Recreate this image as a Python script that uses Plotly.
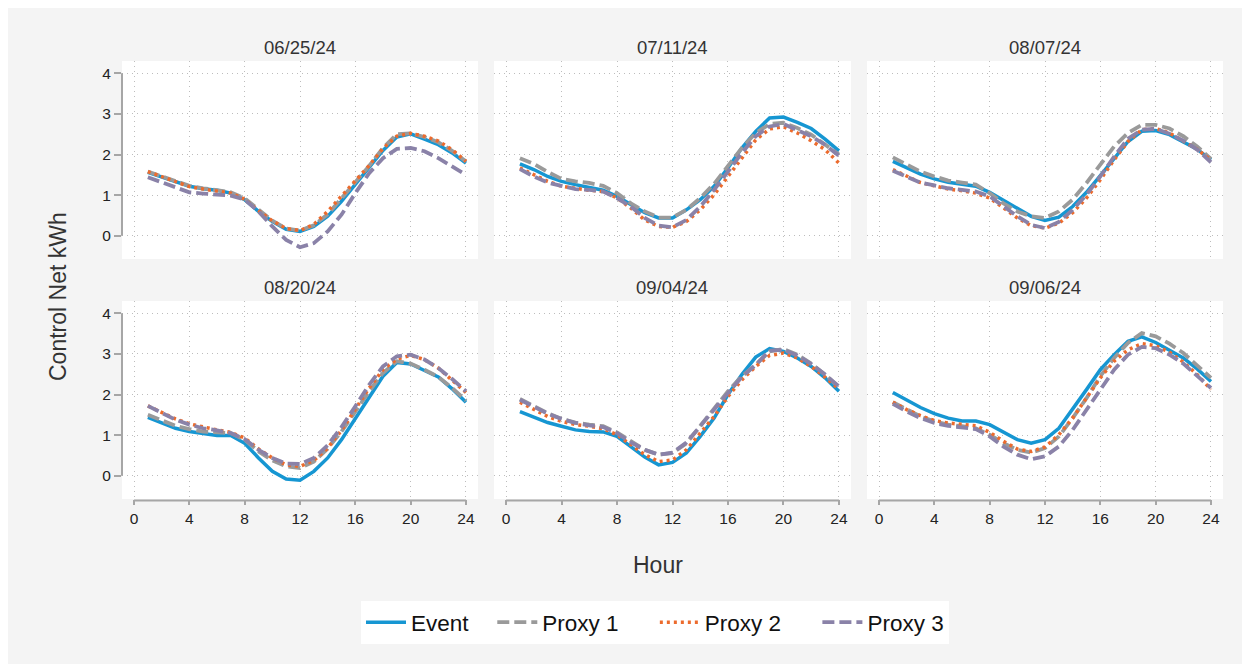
import plotly.graph_objects as go
from plotly.subplots import make_subplots

hours = list(range(1, 25))
dates = ["06/25/24", "07/11/24", "08/07/24", "08/20/24", "09/04/24", "09/06/24"]
series_names = ["Event", "Proxy 1", "Proxy 2", "Proxy 3"]

# values per panel: Event, Proxy 1, Proxy 2, Proxy 3
event_0625 = [1.56, 1.45, 1.33, 1.22, 1.16, 1.12, 1.05, 0.89, 0.60, 0.35, 0.16, 0.11, 0.23, 0.48, 0.85, 1.26, 1.67, 2.10, 2.43, 2.51, 2.38, 2.24, 2.04, 1.79]
proxy1_0625 = [1.58, 1.46, 1.34, 1.23, 1.17, 1.13, 1.07, 0.92, 0.63, 0.37, 0.18, 0.13, 0.26, 0.53, 0.92, 1.32, 1.72, 2.16, 2.50, 2.52, 2.43, 2.30, 2.09, 1.83]
proxy2_0625 = [1.58, 1.45, 1.32, 1.21, 1.15, 1.11, 1.05, 0.90, 0.62, 0.37, 0.18, 0.13, 0.28, 0.60, 0.97, 1.34, 1.73, 2.15, 2.45, 2.52, 2.45, 2.33, 2.12, 1.83]
proxy3_0625 = [1.44, 1.32, 1.19, 1.07, 1.04, 1.01, 0.99, 0.89, 0.60, 0.23, -0.10, -0.28, -0.18, 0.11, 0.52, 1.05, 1.54, 1.91, 2.14, 2.16, 2.08, 1.91, 1.71, 1.50]

event_0711 = [1.77, 1.63, 1.46, 1.34, 1.26, 1.20, 1.12, 0.97, 0.76, 0.57, 0.44, 0.44, 0.64, 0.89, 1.22, 1.67, 2.16, 2.57, 2.90, 2.92, 2.79, 2.64, 2.38, 2.09]
proxy1_0711 = [1.91, 1.77, 1.57, 1.40, 1.34, 1.30, 1.23, 1.05, 0.80, 0.60, 0.45, 0.45, 0.64, 0.93, 1.28, 1.71, 2.16, 2.53, 2.75, 2.78, 2.65, 2.49, 2.24, 2.00]
proxy2_0711 = [1.67, 1.50, 1.34, 1.22, 1.16, 1.12, 1.09, 0.93, 0.68, 0.39, 0.23, 0.21, 0.35, 0.64, 1.01, 1.46, 1.93, 2.36, 2.63, 2.68, 2.53, 2.34, 2.12, 1.79]
proxy3_0711 = [1.64, 1.46, 1.31, 1.22, 1.15, 1.13, 1.09, 0.93, 0.72, 0.44, 0.25, 0.21, 0.39, 0.72, 1.13, 1.58, 2.04, 2.45, 2.69, 2.75, 2.61, 2.45, 2.24, 1.97]

event_0807 = [1.83, 1.67, 1.52, 1.40, 1.32, 1.27, 1.22, 1.07, 0.87, 0.66, 0.48, 0.38, 0.46, 0.72, 1.07, 1.48, 1.91, 2.32, 2.57, 2.59, 2.49, 2.32, 2.13, 1.87]
proxy1_0807 = [1.93, 1.75, 1.58, 1.46, 1.36, 1.31, 1.26, 1.05, 0.80, 0.60, 0.48, 0.44, 0.60, 0.89, 1.30, 1.75, 2.20, 2.53, 2.73, 2.73, 2.64, 2.45, 2.20, 1.89]
proxy2_0807 = [1.63, 1.46, 1.31, 1.23, 1.15, 1.11, 1.05, 0.93, 0.68, 0.44, 0.25, 0.19, 0.31, 0.57, 0.93, 1.38, 1.87, 2.32, 2.61, 2.64, 2.53, 2.34, 2.13, 1.86]
proxy3_0807 = [1.60, 1.46, 1.31, 1.24, 1.17, 1.13, 1.09, 0.97, 0.72, 0.48, 0.27, 0.19, 0.34, 0.64, 1.01, 1.46, 1.95, 2.39, 2.61, 2.63, 2.51, 2.34, 2.12, 1.81]

event_0820 = [1.44, 1.30, 1.17, 1.09, 1.03, 0.99, 0.99, 0.80, 0.44, 0.11, -0.08, -0.11, 0.11, 0.44, 0.89, 1.42, 1.95, 2.45, 2.79, 2.75, 2.59, 2.43, 2.14, 1.81]
proxy1_0820 = [1.50, 1.36, 1.23, 1.15, 1.09, 1.07, 1.05, 0.89, 0.60, 0.38, 0.23, 0.19, 0.35, 0.67, 1.09, 1.58, 2.08, 2.53, 2.82, 2.76, 2.61, 2.43, 2.16, 1.85]
proxy2_0820 = [1.72, 1.56, 1.40, 1.28, 1.20, 1.13, 1.07, 0.93, 0.66, 0.44, 0.27, 0.23, 0.38, 0.68, 1.12, 1.63, 2.16, 2.61, 2.87, 2.96, 2.86, 2.65, 2.36, 2.05]
proxy3_0820 = [1.72, 1.54, 1.38, 1.26, 1.17, 1.12, 1.05, 0.90, 0.64, 0.44, 0.30, 0.29, 0.44, 0.75, 1.20, 1.71, 2.24, 2.69, 2.94, 2.98, 2.86, 2.65, 2.38, 2.08]

event_0904 = [1.58, 1.44, 1.31, 1.22, 1.13, 1.09, 1.08, 0.97, 0.72, 0.46, 0.27, 0.33, 0.56, 0.97, 1.42, 2.00, 2.49, 2.92, 3.13, 3.06, 2.90, 2.69, 2.41, 2.08]
proxy1_0904 = [1.89, 1.71, 1.54, 1.40, 1.31, 1.26, 1.22, 1.07, 0.85, 0.64, 0.52, 0.56, 0.80, 1.22, 1.67, 2.08, 2.45, 2.73, 3.06, 3.12, 2.98, 2.76, 2.49, 2.18]
proxy2_0904 = [1.81, 1.63, 1.46, 1.34, 1.26, 1.22, 1.16, 1.01, 0.76, 0.52, 0.35, 0.39, 0.64, 1.05, 1.46, 1.95, 2.36, 2.69, 2.96, 3.02, 2.90, 2.69, 2.43, 2.13]
proxy3_0904 = [1.87, 1.69, 1.53, 1.40, 1.30, 1.24, 1.20, 1.05, 0.82, 0.64, 0.52, 0.57, 0.82, 1.22, 1.64, 2.04, 2.43, 2.73, 3.08, 3.10, 2.96, 2.75, 2.49, 2.20]

event_0906 = [2.05, 1.86, 1.68, 1.53, 1.42, 1.35, 1.35, 1.26, 1.07, 0.89, 0.80, 0.89, 1.17, 1.63, 2.12, 2.61, 2.98, 3.31, 3.42, 3.28, 3.10, 2.90, 2.63, 2.32]
proxy1_0906 = [1.81, 1.63, 1.46, 1.34, 1.26, 1.22, 1.17, 1.01, 0.80, 0.64, 0.57, 0.68, 0.97, 1.42, 1.91, 2.45, 2.90, 3.27, 3.51, 3.43, 3.25, 3.02, 2.73, 2.41]
proxy2_0906 = [1.81, 1.63, 1.48, 1.36, 1.30, 1.26, 1.23, 1.07, 0.85, 0.66, 0.60, 0.71, 1.01, 1.42, 1.91, 2.41, 2.82, 3.10, 3.25, 3.20, 3.04, 2.80, 2.49, 2.12]
proxy3_0906 = [1.77, 1.58, 1.42, 1.30, 1.23, 1.19, 1.15, 0.97, 0.72, 0.52, 0.41, 0.48, 0.72, 1.13, 1.63, 2.12, 2.61, 2.98, 3.17, 3.14, 2.98, 2.76, 2.46, 2.16]

panels = [
    [event_0625, proxy1_0625, proxy2_0625, proxy3_0625],
    [event_0711, proxy1_0711, proxy2_0711, proxy3_0711],
    [event_0807, proxy1_0807, proxy2_0807, proxy3_0807],
    [event_0820, proxy1_0820, proxy2_0820, proxy3_0820],
    [event_0904, proxy1_0904, proxy2_0904, proxy3_0904],
    [event_0906, proxy1_0906, proxy2_0906, proxy3_0906],
]

x_ticks = [0, 4, 8, 12, 16, 20, 24]
y_ticks = [0, 1, 2, 3, 4]

colors = ["#1696d2", "#9a9a9a", "#ec6b2d", "#8a82a8"]
dashes = ["solid", "12px,5px", "3px,4px", "12px,5px"]
widths = [3.5, 3.8, 3.5, 3.8]
legend_pad = ["\u00a0\u00a0\u00a0", "\u00a0\u00a0\u00a0\u00a0\u00a0", "\u00a0\u00a0\u00a0\u00a0\u00a0", ""]

FONT = "Arial, Liberation Sans, sans-serif"
W, H = 1234, 656
OX, OY = 8, 8


def fx(sx):
    return (sx - OX) / W


def fy(sy):
    return (OY + H - sy) / H


col_px = [(122, 478), (494, 851), (867, 1223)]
row_px = [(61, 259), (301, 499)]

fig = make_subplots(rows=2, cols=3)

for i, vals in enumerate(panels):
    r, c = divmod(i, 3)
    for k, name in enumerate(series_names):
        fig.add_trace(
            go.Scatter(
                x=hours, y=vals[k], mode="lines", name=name + legend_pad[k],
                line=dict(color=colors[k], width=widths[k], dash=dashes[k]),
                showlegend=(i == 0), legendgroup=name,
            ),
            row=r + 1, col=c + 1,
        )

axis_gray = "#a6a6a6"
grid_gray = "#bdbdbd"

for i in range(6):
    r, c = divmod(i, 3)
    n = "" if i == 0 else str(i + 1)
    xa = "xaxis" + n
    ya = "yaxis" + n
    x0, x1 = col_px[c]
    y0, y1 = row_px[r]
    fig.layout[xa].update(
        domain=[fx(x0), fx(x1)], range=[-0.87, 24.87],
        tickvals=x_ticks, ticktext=[str(t) for t in x_ticks],
        showgrid=True, gridcolor=grid_gray, griddash="1px,4px", gridwidth=1,
        zeroline=False, showline=False,
        ticks="outside" if r == 1 else "", ticklen=5, tickcolor=axis_gray, tickwidth=1.5,
        showticklabels=(r == 1),
        tickfont=dict(family=FONT, size=15.5, color="#222222"),
    )
    fig.layout[ya].update(
        domain=[fy(y1), fy(y0)], range=[-0.57, 4.30],
        tickvals=y_ticks, ticktext=[str(t) for t in y_ticks],
        showgrid=True, gridcolor=grid_gray, griddash="1px,4px", gridwidth=1,
        zeroline=False, showline=False,
        ticks="outside" if c == 0 else "", ticklen=7, tickcolor=axis_gray, tickwidth=1.5,
        showticklabels=(c == 0),
        tickfont=dict(family=FONT, size=15.5, color="#222222"),
    )
    xr = "x" + n
    yr = "y" + n
    if c == 0:
        fig.add_shape(type="line", xref=xr + " domain", yref=yr, x0=0, x1=0, y0=0, y1=4,
                      line=dict(color=axis_gray, width=2), layer="above")
    if r == 1:
        fig.add_shape(type="line", xref=xr, yref=yr + " domain", x0=0, x1=24, y0=-0.007, y1=-0.007,
                      line=dict(color=axis_gray, width=2), layer="above")
    fig.add_annotation(
        x=(fx(x0) + fx(x1)) / 2, y=fy(y0 - 14), xref="paper", yref="paper",
        text=dates[i], showarrow=False, xanchor="center", yanchor="middle",
        font=dict(family=FONT, size=18.5, color="#333333"),
    )

fig.add_annotation(x=fx(58), y=fy(297), xref="paper", yref="paper", text="Control Net kWh",
                   textangle=-90, showarrow=False, xanchor="center", yanchor="middle",
                   font=dict(family=FONT, size=23, color="#333333"))
fig.add_annotation(x=fx(658), y=fy(565), xref="paper", yref="paper", text="Hour",
                   showarrow=False, xanchor="center", yanchor="middle",
                   font=dict(family=FONT, size=23, color="#333333"))

fig.update_layout(
    width=W, height=H,
    margin=dict(l=0, r=0, t=0, b=0),
    paper_bgcolor="#f4f4f4",
    plot_bgcolor="#ffffff",
    font=dict(family=FONT),
    legend=dict(
        orientation="h", x=fx(655), xanchor="center", y=fy(601), yanchor="top",
        bgcolor="#ffffff", font=dict(family=FONT, size=22.5, color="#111111"),
        itemwidth=40, tracegroupgap=0,
    ),
)

fig.write_html("out.html")
